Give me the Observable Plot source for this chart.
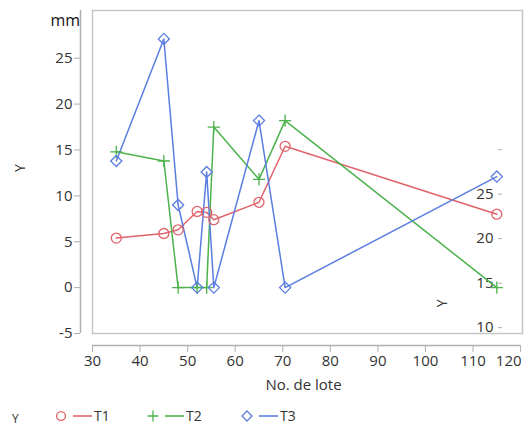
<!DOCTYPE html>
<html>
<head>
<meta charset="utf-8">
<script src="https://cdn.jsdelivr.net/npm/d3@7"></script>
<script src="https://cdn.jsdelivr.net/npm/@observablehq/plot@0.6"></script>
<style>
  body { margin: 0; background: #fff; font-family: "Open Sans", "Noto Sans", sans-serif; }
  #wrap { position: relative; width: 528px; height: 428px; overflow: hidden; }
  #legend { position: relative; height: 28px; font-size: 14px; color: #333; }
  .item { position: absolute; top: 6px; display: flex; align-items: center; }
  .item svg { display: block; }
</style>
</head>
<body>
<div id="wrap">
  <div id="chart"></div>
  <div id="legend"></div>
</div>
<script>
// ---- data ----
const lotes = [35, 45, 48, 52, 54, 55.5, 65, 70.5, 115];
const seriesNames = ["T1", "T2", "T3"];
const t1 = [5.4, 5.9, 6.3, 8.3, 8.2, 7.4, 9.3, 15.4, 8.0];
const t2 = [14.8, 13.8, 0, 0, 0, 17.5, 11.8, 18.2, 0];
const t3 = [13.8, 27.1, 9.0, 0, 12.6, 0, 18.2, 0, 12.1];
const seriesValues = [t1, t2, t3];
const seriesColors = ["#e0636b", "#4cb24c", "#5a7de0"];
const seriesSymbols = ["circle", "plus", "diamond2"];
const seriesRadius = [5, 4, 5];
const xTicks = [30, 40, 50, 60, 70, 80, 90, 100, 110, 120];
const yTicks = [-5, 0, 5, 10, 15, 20, 25];
// inset secondary axis (overlaid in the original image)
const rightTicks = [10, 15, 20, 25, 30];
const rightLabels = ["10", "15", "20", "25", ""];
const rightScale = d3.scaleLinear([10, 30], [-4.36, 15.03]);

const rows = seriesNames.flatMap((s, i) =>
  lotes.map((x, j) => ({ lote: x, y: seriesValues[i][j], serie: s })));

const W = 528, H = 400;
const fontFamily = '"Open Sans", "Noto Sans", sans-serif';
const lastX = xTicks[xTicks.length - 1];
const fmt = d => (d < 0 ? "-" + Math.abs(d) : String(d));

const chart = Plot.plot({
  width: W,
  height: H,
  marginTop: 10,
  marginLeft: 92,
  marginRight: 6,
  marginBottom: 67,
  style: { fontFamily, fontSize: "15px", color: "#333", background: "#fff" },
  x: { domain: [30, 120.4], clamp: true },
  y: { domain: [-5, 30.2] },
  color: { domain: seriesNames, range: seriesColors },
  symbol: { domain: seriesNames, range: seriesSymbols },
  marks: [
    Plot.frame({ stroke: "#c6c6c6", strokeWidth: 1.5 }),
    // left axis
    Plot.ruleX([30], { y1: -5, y2: 30.2, dx: -12, stroke: "#b0b0b0", strokeWidth: 1.5 }),
    Plot.axisY({ anchor: "left", ticks: yTicks, tickFormat: fmt, dx: -12, tickSize: 6, tickPadding: 2,
      stroke: "#b0b0b0", label: null, fontSize: 15 }),
    // bottom axis
    Plot.ruleY([-5], { x1: 30, x2: lastX, dy: 12, stroke: "#b0b0b0", strokeWidth: 1.5 }),
    Plot.axisX({ anchor: "bottom", ticks: xTicks, tickFormat: d => (d === lastX ? "" : fmt(d)),
      dy: 12, tickSize: 7, tickPadding: 3, stroke: "#b0b0b0", label: null, fontSize: 15 }),
    Plot.axisX({ anchor: "bottom", ticks: [lastX], tickFormat: fmt, textAnchor: "end",
      dy: 12, dx: 1, tickSize: 0, tickPadding: 10, label: null, fontSize: 15 }),
    Plot.text(["No. de lote"], { frameAnchor: "bottom", dy: 56, dx: -4, fontSize: 15, fill: "#333" }),
    Plot.text(["Y"], { frameAnchor: "left", dx: -72, rotate: -90, fontSize: 14, fill: "#333" }),
    Plot.text(["mm"], { frameAnchor: "top-left", dx: -42, dy: 4, fontSize: 16, fill: "#111" }),
    // overlaid inset axis on the right
    Plot.axisY({ anchor: "left", ticks: rightTicks.map(rightScale),
      tickFormat: (d, i) => rightLabels[i], dx: 410, tickSize: 4, tickPadding: 5,
      stroke: "#b0b0b0", label: null, fontSize: 15 }),
    Plot.text(["Y"], { frameAnchor: "bottom-right", dx: -76, dy: -34, rotate: -90, fontSize: 14, fill: "#333" }),
    // data
    Plot.line(rows, { x: "lote", y: "y", z: "serie", stroke: "serie", strokeWidth: 1.5 }),
    ...seriesNames.map((s, i) => Plot.dot(rows, {
      filter: d => d.serie === s, x: "lote", y: "y", stroke: "serie", symbol: "serie",
      fill: "none", r: seriesRadius[i], strokeWidth: 1.3 }))
  ]
});
document.getElementById("chart").appendChild(chart);

// legend
const legend = document.getElementById("legend");
const yLab = document.createElement("div");
yLab.textContent = "Y";
yLab.style.cssText = "position:absolute;left:12px;top:12px;font-size:12px;line-height:14px;color:#333;";
legend.appendChild(yLab);
const lefts = [55, 147, 241];
seriesNames.forEach((s, i) => {
  const item = document.createElement("div");
  item.className = "item";
  item.style.left = lefts[i] + "px";
  const svg = d3.create("svg").attr("width", 38).attr("height", 16);
  const sym = d3.symbol(
    [d3.symbolCircle, d3.symbolPlus, d3.symbolDiamond2][i],
    Math.PI * seriesRadius[i] * seriesRadius[i] * 0.8)();
  svg.append("path").attr("d", sym).attr("transform", "translate(6,8)")
    .attr("fill", "none").attr("stroke", seriesColors[i]).attr("stroke-width", 1.3);
  svg.append("line").attr("x1", 18).attr("x2", 37).attr("y1", 8).attr("y2", 8)
    .attr("stroke", seriesColors[i]).attr("stroke-width", 1.6);
  item.appendChild(svg.node());
  const t = document.createElement("span");
  t.textContent = s;
  t.style.marginLeft = "1px";
  item.appendChild(t);
  legend.appendChild(item);
});
</script>
</body>
</html>
